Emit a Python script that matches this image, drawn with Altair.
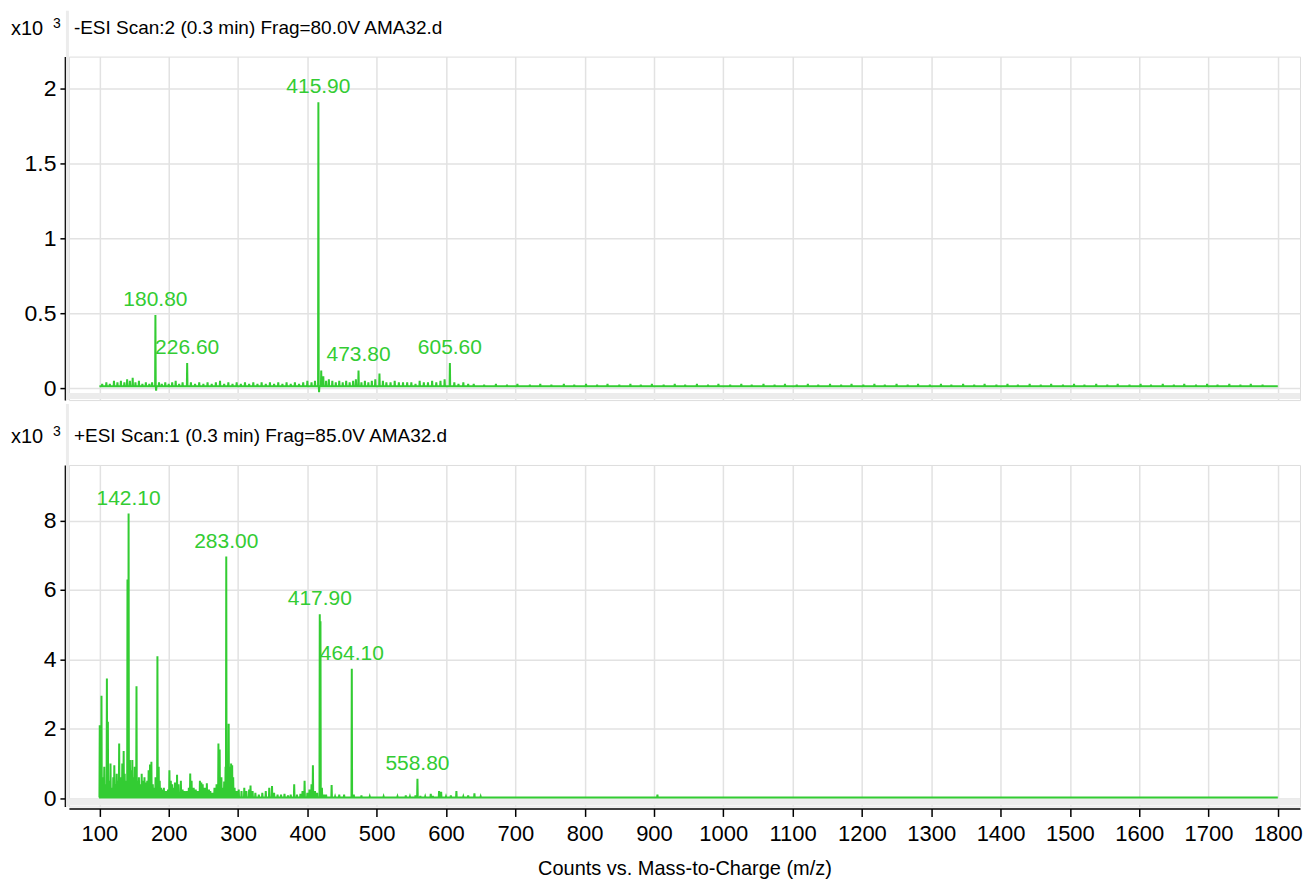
import altair as alt
import pandas as pd

FONT = "Liberation Sans, Arial, sans-serif"
GREEN = "#33cc33"
GRID = "#e2e2e2"
FRAME = "#ececec"

# ---------------- data: negative mode (top panel), intensity in x10^3 counts
neg_mz = [104, 110, 115, 121, 126, 131, 136, 140, 144, 148, 152, 157, 162, 167, 172, 176,
          180.8, 181.8, 186, 190, 195, 200, 205, 210, 215, 220, 226.6, 232, 238, 244, 250,
          256, 262, 268, 274, 280, 286, 292, 298, 304, 310, 316, 322, 328, 334, 340, 346,
          352, 358, 364, 370, 376, 382, 388, 394, 400, 406, 411, 415.9, 416.9, 420, 423,
          427, 431, 436, 441, 446, 451, 456, 461, 466, 470, 473.8, 478, 483, 488, 493, 498,
          504, 509, 514, 520, 526, 532, 538, 544, 550, 556, 562, 568, 574, 580, 586, 592,
          598, 605.6, 612, 618, 625, 632, 640, 655, 672, 688, 703, 721, 736, 752, 770, 785,
          802, 818, 833, 850, 866, 881, 897, 914, 930, 945, 962, 978, 993, 1010, 1026, 1041,
          1058, 1074, 1089, 1106, 1122, 1137, 1154, 1170, 1185, 1202, 1218, 1233, 1250,
          1266, 1281, 1298, 1314, 1329, 1346, 1362, 1377, 1394, 1410, 1425, 1442, 1458,
          1473, 1490, 1506, 1521, 1538, 1554, 1569, 1586, 1602, 1617, 1634, 1650, 1665,
          1682, 1698, 1713, 1730, 1746, 1761, 1778, 1794]
neg_int = [0.03, 0.04, 0.03, 0.05, 0.04, 0.05, 0.04, 0.06, 0.05, 0.07, 0.04, 0.05, 0.03, 0.04, 0.03, 0.04,
           0.49, -0.015, 0.04, 0.03, 0.04, 0.03, 0.04, 0.05, 0.03, 0.04, 0.17, 0.04, 0.03, 0.04, 0.03,
           0.04, 0.03, 0.04, 0.05, 0.03, 0.04, 0.03, 0.04, 0.03, 0.04, 0.03, 0.04, 0.03, 0.04, 0.03, 0.04,
           0.03, 0.04, 0.03, 0.04, 0.03, 0.04, 0.03, 0.04, 0.05, 0.04, 0.05, 1.91, -0.025, 0.12, 0.08,
           0.05, 0.06, 0.05, 0.04, 0.05, 0.04, 0.05, 0.04, 0.05, 0.06, 0.12, 0.04, 0.05, 0.04, 0.05, 0.06,
           0.10, 0.05, 0.04, 0.04, 0.05, 0.04, 0.04, 0.04, 0.04, 0.03, 0.05, 0.04, 0.04, 0.05, 0.04, 0.05,
           0.06, 0.17, 0.04, 0.03, 0.04, 0.03, 0.03, 0.025, 0.03, 0.025, 0.03, 0.025, 0.03, 0.025, 0.03, 0.025,
           0.03, 0.025, 0.03, 0.025, 0.03, 0.025, 0.03, 0.025, 0.03, 0.025, 0.03, 0.025, 0.03, 0.025, 0.03, 0.025,
           0.03, 0.025, 0.03, 0.025, 0.03, 0.025, 0.03, 0.025, 0.03, 0.025, 0.03, 0.025, 0.03,
           0.025, 0.03, 0.025, 0.03, 0.025, 0.03, 0.025, 0.03, 0.025, 0.03, 0.025, 0.03, 0.025,
           0.03, 0.025, 0.03, 0.025, 0.03, 0.025, 0.03, 0.025, 0.03, 0.025, 0.03, 0.025, 0.03,
           0.025, 0.03, 0.025, 0.03, 0.025, 0.03, 0.025]
neg_base = 0.015
neg_label_mz = [180.8, 226.6, 415.9, 473.8, 605.6]
neg_label_int = [0.49, 0.17, 1.91, 0.12, 0.17]
neg_label_txt = ["180.80", "226.60", "415.90", "473.80", "605.60"]

# ---------------- data: positive mode (bottom panel), intensity in x10^3 counts
pos_mz = [100.5, 101.5, 103.0, 105, 107, 109, 110.8, 112.2, 114, 116, 118, 120, 121.5, 123, 125,
          127, 128.5, 130, 131.5, 133, 135, 136.5, 138, 140.5, 142.1, 144, 146, 147.5, 149, 151,
          153.5, 155, 157, 159, 161, 163, 165, 167, 169, 171, 173, 175, 177, 179, 181, 183.7,
          185.5, 187, 189, 191, 193, 196, 199, 201, 203, 205, 207, 209, 212, 214, 217.5, 220,
          223, 226, 229, 231, 233, 236, 239, 242, 245, 247, 249, 252, 255, 258, 260, 263, 266,
          269, 271.7, 273.5, 276, 278, 280, 282, 283.0, 284.5, 286.5, 288, 290, 291.5, 293, 295,
          298, 301, 305, 309, 312, 316, 318, 321, 325, 330, 335, 340, 345, 349, 352, 357, 362,
          367, 372, 376, 381, 385, 390, 393, 396, 400, 403, 406, 408, 411, 414, 417.9, 418.9,
          421, 424, 427, 435, 440, 446, 453, 464.1, 467, 478, 490, 510, 530, 542, 548, 556,
          558.8, 563, 570, 578, 581, 590, 593, 600, 607, 615, 625, 632, 641, 650, 905]
pos_int = [2.1, 1.0, 2.95, 0.6, 0.9, 0.4, 3.45, 2.2, 0.5, 1.0, 0.3, 0.6, 0.95, 0.4, 0.7,
           0.5, 1.57, 0.6, 0.5, 1.0, 1.36, 0.7, 0.5, 6.3, 8.2, 1.1, 0.8, 1.1, 0.6, 0.9,
           3.22, 0.5, 0.6, 0.4, 0.7, 0.5, 0.6, 0.45, 0.5, 0.8, 0.97, 1.05, 0.4, 0.3, 0.6, 4.09,
           0.9, 0.5, 0.3, 0.25, 0.3, 0.2, 0.25, 0.8, 0.5, 0.4, 0.3, 0.45, 0.67, 0.4, 0.5, 0.25,
           0.2, 0.2, 0.3, 0.71, 0.5, 0.3, 0.25, 0.2, 0.5, 0.45, 0.4, 0.3, 0.43, 0.25, 0.2, 0.15, 0.3,
           0.4, 1.57, 1.4, 0.6, 0.3, 0.48, 0.9, 6.96, 0.8, 2.14, 0.9, 1.0, 0.95, 0.6, 0.3,
           0.2, 0.25, 0.2, 0.3, 0.2, 0.25, 0.36, 0.2, 0.15, 0.1, 0.15, 0.2, 0.3, 0.35, 0.15, 0.1, 0.1,
           0.12, 0.08, 0.1, 0.4, 0.1, 0.12, 0.2, 0.5, 0.15, 0.25, 0.4, 0.95, 0.2, 0.15, 5.3, 5.1,
           0.3, 0.1, 0.1, 0.38, 0.05, 0.1, 0.1, 3.73, 0.1, 0.08, 0.05, 0.05, 0.05, 0.08, 0.05, 0.08,
           0.56, 0.06, 0.05, 0.12, 0.06, 0.2, 0.18, 0.05, 0.08, 0.2, 0.05, 0.08, 0.14, 0.05, 0.1]
pos_base = 0.02
pos_label_mz = [142.1, 283.0, 417.9, 464.1, 558.8]
pos_label_int = [8.2, 6.96, 5.3, 3.73, 0.56]
pos_label_txt = ["142.10", "283.00", "417.90", "464.10", "558.80"]

x_ticks = [100, 200, 300, 400, 500, 600, 700, 800, 900, 1000, 1100, 1200, 1300, 1400, 1500, 1600, 1700, 1800]
x_domain = [56, 1832]
neg_title = "-ESI Scan:2 (0.3 min) Frag=80.0V AMA32.d"
pos_title = "+ESI Scan:1 (0.3 min) Frag=85.0V AMA32.d"

W = 1233


def profile(mzs, ints, base):
    rows = [(100.0, base)]
    for m, h in zip(mzs, ints):
        rows += [(m - 0.45, base), (m, h), (m + 0.45, base)]
    rows.append((1800.0, base))
    df = pd.DataFrame(rows, columns=["mz", "i"])
    df["idx"] = range(len(df))
    return df


def panel(mzs, ints, base, lmz, lint, ltxt, title, ydom, yticks, H, top_gap, band_y, show_x):
    df = profile(mzs, ints, base)
    if show_x:
        xaxis = alt.Axis(values=x_ticks, format="d", title="Counts vs. Mass-to-Charge (m/z)",
                         grid=True, gridColor=GRID, gridWidth=1.5, domainColor="black",
                         domainWidth=1.5, tickColor="black", tickSize=8, tickWidth=1.5,
                         labelFontSize=22, labelFont=FONT, labelColor="black", labelPadding=7,
                         offset=2, titleFont=FONT, titleFontSize=20, titleFontWeight="normal",
                         titleColor="black", titlePadding=14)
    else:
        xaxis = alt.Axis(values=x_ticks, title=None, grid=True, gridColor=GRID, gridWidth=1.5,
                         labels=False, ticks=False, domain=False)
    yaxis = alt.Axis(values=yticks, format="~g", title=None, grid=True, gridColor=GRID,
                     gridWidth=1.5, domainColor="black", domainWidth=1.5, tickColor="black",
                     tickSize=5, tickWidth=1.5, labelFontSize=23, labelFont=FONT,
                     labelColor="black", labelPadding=4, offset=4, minExtent=56, maxExtent=56)
    xs = alt.Scale(domain=x_domain, nice=False, zero=False)
    ys = alt.Scale(domain=ydom, nice=False, zero=False)

    band = alt.Chart(pd.DataFrame({"a": [0]})).mark_rect(color=FRAME).encode(
        x=alt.value(0), x2=alt.value(W), y=alt.value(band_y[0]), y2=alt.value(band_y[1]))
    frame_left = alt.Chart(pd.DataFrame({"a": [0]})).mark_rule(color=FRAME, strokeWidth=3).encode(
        x=alt.value(-1.5), y=alt.value(-top_gap), y2=alt.value(H))
    line = alt.Chart(df).mark_line(color=GREEN, strokeWidth=2, clip=True).encode(
        x=alt.X("mz:Q", scale=xs, axis=xaxis),
        y=alt.Y("i:Q", scale=ys, axis=yaxis),
        order="idx:Q")
    ldf = pd.DataFrame({"mz": lmz, "i": lint, "t": ltxt})
    labels = alt.Chart(ldf).mark_text(color=GREEN, font=FONT, fontSize=21, align="center",
                                      baseline="alphabetic", dy=-9).encode(
        x=alt.X("mz:Q", scale=xs), y=alt.Y("i:Q", scale=ys), text="t:N")
    tdf = pd.DataFrame({"t": [title]})
    ttl = alt.Chart(tdf).mark_text(color="black", font=FONT, fontSize=19, align="left",
                                   baseline="alphabetic").encode(
        x=alt.value(5), y=alt.value(-23), text="t:N")
    x10 = alt.Chart(pd.DataFrame({"t": ["x10"]})).mark_text(
        color="black", font=FONT, fontSize=20, align="left", baseline="alphabetic").encode(
        x=alt.value(-58), y=alt.value(-22), text="t:N")
    sup = alt.Chart(pd.DataFrame({"t": ["3"]})).mark_text(
        color="black", font=FONT, fontSize=14, align="left", baseline="alphabetic").encode(
        x=alt.value(-16), y=alt.value(-29), text="t:N")
    return alt.layer(band, frame_left, line, labels, ttl, x10, sup).properties(width=W, height=H)


top = panel(neg_mz, neg_int, neg_base, neg_label_mz, neg_label_int, neg_label_txt, neg_title,
            [-0.078, 2.215], [0, 0.5, 1, 1.5, 2], 344, 46, (337, 343), False)
bottom = panel(pos_mz, pos_int, pos_base, pos_label_mz, pos_label_int, pos_label_txt, pos_title,
               [-0.24, 9.6], [0, 2, 4, 6, 8], 342, 61, (334, 341), True)

chart = alt.vconcat(top, bottom, spacing=0).configure_view(stroke=None).configure(
    padding=0, font=FONT)

chart.save("out.html", embed_options={"renderer": "svg", "actions": False})
